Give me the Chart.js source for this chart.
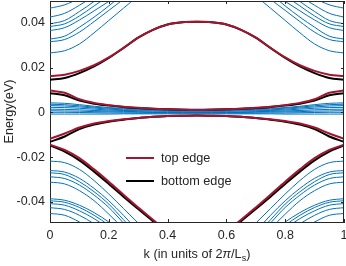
<!DOCTYPE html>
<html><head><meta charset="utf-8">
<script src="https://cdn.jsdelivr.net/npm/chart.js@4/dist/chart.umd.min.js"></script>
<style>html,body{margin:0;padding:0;background:#fff;}canvas{display:block;}</style>
</head><body>
<canvas id="c" width="346" height="266"></canvas>
<script>
// k grid (units of 2π/Ls)
const kValues = [0,0.05,0.1,0.15,0.2,0.25,0.3,0.35,0.4,0.45,0.5,0.55,0.6,0.65,0.7,0.75,0.8,0.85,0.9,0.95,1];
const xTicks = [0,0.2,0.4,0.6,0.8,1];
const xTickLabels = ["0","0.2","0.4","0.6","0.8","1"];
const yTicks = [-0.04,-0.02,0,0.02,0.04];
const yTickLabels = ["-0.04","-0.02","0","0.02","0.04"];

// edge states: "top edge" (red) and "bottom edge" (black)
const topEdgeUpper = [0.0162,0.0168,0.0185,0.021,0.0245,0.0288,0.0333,0.0368,0.0392,0.0402,0.0404,0.0402,0.0392,0.0368,0.0333,0.0288,0.0245,0.021,0.0185,0.0168,0.0162];
const bottomEdgeUpper = [0.0145,0.0153,0.0175,0.0205,0.0243,0.0287,0.0333,0.0368,0.0392,0.0402,0.0404,0.0402,0.0392,0.0368,0.0333,0.0287,0.0243,0.0205,0.0175,0.0153,0.0145];
const topEdgeGapUp = [0.0097,0.0087,0.0058,0.0042,0.0032,0.0025,0.002,0.0016,0.0013,0.0011,0.001,0.0011,0.0013,0.0016,0.002,0.0025,0.0032,0.0042,0.0058,0.0087,0.0097];
const bottomEdgeGapUp = [0.0085,0.0076,0.0052,0.0038,0.003,0.0024,0.0019,0.0016,0.0013,0.0011,0.001,0.0011,0.0013,0.0016,0.0019,0.0024,0.003,0.0038,0.0052,0.0076,0.0085];
const topEdgeGapDown = [-0.0118,-0.0095,-0.0068,-0.005,-0.0039,-0.0031,-0.0025,-0.002,-0.0017,-0.0015,-0.0014,-0.0015,-0.0017,-0.002,-0.0025,-0.0031,-0.0039,-0.005,-0.0068,-0.0095,-0.0118];
const bottomEdgeGapDown = [-0.0132,-0.0108,-0.0075,-0.0055,-0.0042,-0.0033,-0.0026,-0.002,-0.0017,-0.0015,-0.0014,-0.0015,-0.0017,-0.002,-0.0026,-0.0033,-0.0042,-0.0055,-0.0075,-0.0108,-0.0132];
const topEdgeLower = [-0.0145,-0.0168,-0.0205,-0.0255,-0.031,-0.0368,-0.0425,-0.048,-0.053,-0.0565,-0.0575,-0.0565,-0.053,-0.048,-0.0425,-0.0368,-0.031,-0.0255,-0.0205,-0.0168,-0.0145];
const bottomEdgeLower = [-0.0148,-0.0176,-0.0215,-0.0265,-0.032,-0.0377,-0.0432,-0.0486,-0.0535,-0.0568,-0.0577,-0.0568,-0.0535,-0.0486,-0.0432,-0.0377,-0.032,-0.0265,-0.0215,-0.0176,-0.0148];

// bulk bands above the gap
const bulkUp1 = [0.0465,0.048,0.051,0.055,0.06,0.065,0.07,0.074,0.077,0.079,0.08,0.079,0.077,0.074,0.07,0.065,0.06,0.055,0.051,0.048,0.0465];
const bulkUp2 = [0.0425,0.0442,0.0478,0.052,0.057,0.062,0.067,0.071,0.074,0.076,0.077,0.076,0.074,0.071,0.067,0.062,0.057,0.052,0.0478,0.0442,0.0425];
const bulkUp3 = [0.0395,0.041,0.045,0.0495,0.055,0.06,0.065,0.069,0.072,0.074,0.075,0.074,0.072,0.069,0.065,0.06,0.055,0.0495,0.045,0.041,0.0395];
const bulkUp4 = [0.0383,0.0395,0.043,0.0475,0.052,0.057,0.062,0.066,0.069,0.071,0.072,0.071,0.069,0.066,0.062,0.057,0.052,0.0475,0.043,0.0395,0.0383];
const bulkUp5 = [0.0365,0.0378,0.0412,0.0453,0.0495,0.054,0.059,0.063,0.066,0.068,0.069,0.068,0.066,0.063,0.059,0.054,0.0495,0.0453,0.0412,0.0378,0.0365];
const bulkUp6 = [0.0327,0.034,0.038,0.0425,0.0475,0.053,0.059,0.064,0.068,0.07,0.071,0.07,0.068,0.064,0.059,0.053,0.0475,0.0425,0.038,0.034,0.0327];
const bulkUp7 = [0.0315,0.0325,0.0358,0.0405,0.0455,0.0505,0.056,0.062,0.066,0.068,0.069,0.068,0.066,0.062,0.056,0.0505,0.0455,0.0405,0.0358,0.0325,0.0315];
const bulkUp8 = [0.0265,0.0275,0.0305,0.0355,0.041,0.0465,0.052,0.058,0.062,0.064,0.065,0.064,0.062,0.058,0.052,0.0465,0.041,0.0355,0.0305,0.0275,0.0265];

// bulk bands below the gap
const bulkDn1 = [-0.0218,-0.0225,-0.0255,-0.0305,-0.0365,-0.043,-0.0495,-0.056,-0.061,-0.064,-0.065,-0.064,-0.061,-0.056,-0.0495,-0.043,-0.0365,-0.0305,-0.0255,-0.0225,-0.0218];
const bulkDn2 = [-0.026,-0.0267,-0.0295,-0.034,-0.0395,-0.046,-0.053,-0.059,-0.063,-0.066,-0.067,-0.066,-0.063,-0.059,-0.053,-0.046,-0.0395,-0.034,-0.0295,-0.0267,-0.026];
const bulkDn3 = [-0.027,-0.0278,-0.031,-0.0355,-0.041,-0.048,-0.055,-0.061,-0.065,-0.067,-0.068,-0.067,-0.065,-0.061,-0.055,-0.048,-0.041,-0.0355,-0.031,-0.0278,-0.027];
const bulkDn4 = [-0.0288,-0.0296,-0.0325,-0.037,-0.0425,-0.0495,-0.057,-0.063,-0.067,-0.069,-0.07,-0.069,-0.067,-0.063,-0.057,-0.0495,-0.0425,-0.037,-0.0325,-0.0296,-0.0288];
const bulkDn5 = [-0.0312,-0.032,-0.035,-0.0395,-0.0455,-0.052,-0.059,-0.065,-0.069,-0.071,-0.072,-0.071,-0.069,-0.065,-0.059,-0.052,-0.0455,-0.0395,-0.035,-0.032,-0.0312];
const bulkDn6 = [-0.0386,-0.0393,-0.0415,-0.0448,-0.049,-0.054,-0.06,-0.066,-0.07,-0.072,-0.073,-0.072,-0.07,-0.066,-0.06,-0.054,-0.049,-0.0448,-0.0415,-0.0393,-0.0386];
const bulkDn7 = [-0.0395,-0.0402,-0.0425,-0.046,-0.0505,-0.056,-0.062,-0.067,-0.071,-0.073,-0.074,-0.073,-0.071,-0.067,-0.062,-0.056,-0.0505,-0.046,-0.0425,-0.0402,-0.0395];
const bulkDn8 = [-0.0408,-0.0415,-0.044,-0.0475,-0.052,-0.0575,-0.063,-0.068,-0.072,-0.074,-0.075,-0.074,-0.072,-0.068,-0.063,-0.0575,-0.052,-0.0475,-0.044,-0.0415,-0.0408];
const bulkDn9 = [-0.0426,-0.0434,-0.046,-0.0498,-0.054,-0.059,-0.064,-0.069,-0.073,-0.075,-0.076,-0.075,-0.073,-0.069,-0.064,-0.059,-0.054,-0.0498,-0.046,-0.0434,-0.0426];
const bulkDn10 = [-0.0452,-0.046,-0.049,-0.053,-0.057,-0.061,-0.066,-0.07,-0.074,-0.076,-0.077,-0.076,-0.074,-0.07,-0.066,-0.061,-0.057,-0.053,-0.049,-0.046,-0.0452];

// flat bands near zero energy
const flat1 = [0.0042,0.004,0.0034,0.0027,0.0021,0.0018,0.0016,0.0015,0.0014,0.0014,0.0014,0.0014,0.0014,0.0015,0.0016,0.0018,0.0021,0.0027,0.0034,0.004,0.0042];
const flat2 = [0.0036,0.0034,0.0029,0.0023,0.0018,0.0015,0.0013,0.0012,0.0011,0.0011,0.0011,0.0011,0.0011,0.0012,0.0013,0.0015,0.0018,0.0023,0.0029,0.0034,0.0036];
const flat3 = [0.003,0.0028,0.0024,0.0019,0.0014,0.0011,0.001,0.0009,0.0008,0.0008,0.0008,0.0008,0.0008,0.0009,0.001,0.0011,0.0014,0.0019,0.0024,0.0028,0.003];
const flat4 = [0.0022,0.0021,0.0018,0.0014,0.001,0.0008,0.0007,0.0006,0.0005,0.0005,0.0005,0.0005,0.0005,0.0006,0.0007,0.0008,0.001,0.0014,0.0018,0.0021,0.0022];
const flat5 = [0.0014,0.0013,0.0011,0.0008,0.0006,0.0004,0.0003,0.0002,0.0002,0.0002,0.0002,0.0002,0.0002,0.0002,0.0003,0.0004,0.0006,0.0008,0.0011,0.0013,0.0014];
const flat6 = [0.0007,0.0006,0.0005,0.0003,0.0002,0.0001,0,-0.0001,-0.0001,-0.0001,-0.0001,-0.0001,-0.0001,-0.0001,0,0.0001,0.0002,0.0003,0.0005,0.0006,0.0007];
const flat7 = [0,0,-0.0001,-0.0002,-0.0003,-0.0003,-0.0004,-0.0004,-0.0004,-0.0004,-0.0004,-0.0004,-0.0004,-0.0004,-0.0004,-0.0003,-0.0003,-0.0002,-0.0001,0,0];
const flat8 = [-0.0008,-0.0008,-0.0008,-0.0008,-0.0008,-0.0007,-0.0007,-0.0007,-0.0007,-0.0007,-0.0007,-0.0007,-0.0007,-0.0007,-0.0007,-0.0007,-0.0008,-0.0008,-0.0008,-0.0008,-0.0008];

const legendLabels = ["top edge","bottom edge"];
const RED = '#A2142F', BLACK = '#000000', BLUE = '#0072BD', AXIS = '#262626';
const FONT = "'Liberation Sans', Arial, Helvetica, sans-serif";

function pts(arr){ return arr.map((v,i)=>({x:kValues[i], y:v})); }
function ds(arr, color, w, label){ return {label: label||'', data: pts(arr), borderColor: color, borderWidth: w, pointRadius: 0, fill: false, clip: 0}; }

const datasets = [];
[topEdgeUpper, topEdgeGapUp, topEdgeGapDown, topEdgeLower].forEach(a=>datasets.push(ds(a, RED, 2, legendLabels[0])));
[bottomEdgeUpper, bottomEdgeGapUp, bottomEdgeGapDown, bottomEdgeLower].forEach(a=>datasets.push(ds(a, BLACK, 2, legendLabels[1])));
[bulkUp1,bulkUp2,bulkUp3,bulkUp4,bulkUp5,bulkUp6,bulkUp7,bulkUp8,
 bulkDn1,bulkDn2,bulkDn3,bulkDn4,bulkDn5,bulkDn6,bulkDn7,bulkDn8,bulkDn9,bulkDn10,
 flat1,flat2,flat3,flat4,flat5,flat6,flat7,flat8].forEach(a=>datasets.push(ds(a, BLUE, 1)));

const boxPlugin = {
  id: 'box',
  afterDraw(chart){
    const {ctx, chartArea: a, scales} = chart;
    ctx.save();
    ctx.strokeStyle = AXIS; ctx.lineWidth = 1;
    ctx.beginPath();
    ctx.moveTo(a.left, a.top+0.5); ctx.lineTo(a.right, a.top+0.5);
    ctx.moveTo(a.right-0.5, a.top); ctx.lineTo(a.right-0.5, a.bottom);
    const tl = 3;
    xTicks.forEach(v=>{
      const x = Math.round(scales.x.getPixelForValue(v))+0.5;
      ctx.moveTo(x, a.bottom); ctx.lineTo(x, a.bottom-tl);
      ctx.moveTo(x, a.top); ctx.lineTo(x, a.top+tl);
    });
    yTicks.forEach(v=>{
      const y = Math.round(scales.y.getPixelForValue(v))+0.5;
      ctx.moveTo(a.left, y); ctx.lineTo(a.left+tl, y);
      ctx.moveTo(a.right, y); ctx.lineTo(a.right-tl, y);
    });
    ctx.stroke();
    ctx.restore();
  }
};

const textPlugin = {
  id: 'texts',
  afterDraw(chart){
    const {ctx, chartArea: a} = chart;
    ctx.save();
    // legend
    ctx.lineWidth = 2;
    ctx.font = `12.7px ${FONT}`;
    ctx.textBaseline = 'middle'; ctx.textAlign = 'left';
    [[RED, 158, legendLabels[0]], [BLACK, 181, legendLabels[1]]].forEach(([c,y,t])=>{
      ctx.strokeStyle = c;
      ctx.beginPath(); ctx.moveTo(126, y); ctx.lineTo(154, y); ctx.stroke();
      ctx.fillStyle = AXIS; ctx.fillText(t, 161, y+0.5);
    });
    // x title with subscript
    const cx = (a.left + a.right)/2, by = 258;
    const f1 = `12.7px ${FONT}`, fi = `italic 12.7px ${FONT}`, fs = `9px ${FONT}`;
    const parts = [["k (in units of 2", f1, 0], ["π", fi, 0], ["/L", f1, 0], ["s", fs, 3], [")", f1, 0]];
    let tw = 0;
    parts.forEach(p=>{ ctx.font = p[1]; tw += ctx.measureText(p[0]).width; });
    let x = cx - tw/2;
    ctx.textBaseline = 'alphabetic'; ctx.fillStyle = AXIS;
    parts.forEach(p=>{ ctx.font = p[1]; ctx.fillText(p[0], x, by + p[2]); x += ctx.measureText(p[0]).width; });
    // y title
    ctx.translate(9, (a.top + a.bottom)/2);
    ctx.rotate(-Math.PI/2);
    ctx.font = f1; ctx.textAlign = 'center'; ctx.textBaseline = 'middle';
    ctx.fillText("Energy(eV)", 0, 0);
    ctx.restore();
  }
};

function noPad(s){ s.paddingLeft = 0; s.paddingRight = 0; s.paddingTop = 0; s.paddingBottom = 0; }

new Chart(document.getElementById('c'), {
  type: 'line',
  data: { datasets },
  options: {
    responsive: false, animation: false, devicePixelRatio: 1,
    layout: { padding: { left: 0, right: 2, top: 1, bottom: 0 } },
    plugins: { legend: { display: false }, tooltip: { enabled: false } },
    elements: { line: { cubicInterpolationMode: 'monotone' }, point: { radius: 0 } },
    scales: {
      x: {
        type: 'linear', min: 0, max: 1,
        afterBuildTicks: s => { s.ticks = xTicks.map(v=>({value:v})); },
        afterFit: s => { s.height = 44; noPad(s); },
        ticks: { callback: (v,i) => xTickLabels[i], color: AXIS, font: { family: FONT, size: 12.5 }, padding: 6, maxRotation: 0, autoSkip: false },
        grid: { display: false, drawTicks: false, tickLength: 0 },
        border: { display: true, color: AXIS, width: 1 }
      },
      y: {
        type: 'linear', min: -0.049, max: 0.0497,
        afterBuildTicks: s => { s.ticks = yTicks.map(v=>({value:v})); },
        afterFit: s => { s.width = 50; noPad(s); },
        ticks: { callback: (v,i) => yTickLabels[i], color: AXIS, font: { family: FONT, size: 12.5 }, padding: 5, autoSkip: false },
        grid: { display: false, drawTicks: false, tickLength: 0 },
        border: { display: true, color: AXIS, width: 1 }
      }
    }
  },
  plugins: [boxPlugin, textPlugin]
});
</script>
</body></html>
